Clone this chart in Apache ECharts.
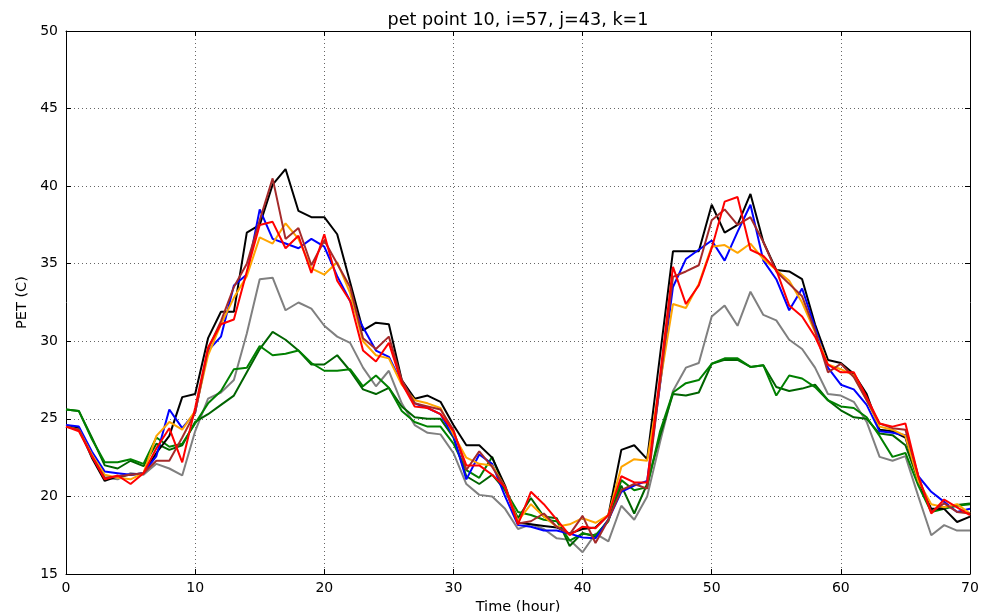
<!DOCTYPE html>
<html>
<head>
<meta charset="utf-8">
<script src="https://cdn.jsdelivr.net/npm/echarts@6/dist/echarts.min.js"></script>
<style>
  html, body { margin: 0; padding: 0; background: #fff; }
  #chart { width: 986px; height: 612px; }
</style>
</head>
<body>
<div id="chart"></div>
<script>
// PET time series at point 10 (i=57, j=43, k=1), one value per hour
const hours = Array.from({ length: 71 }, (_, i) => i);

const xTicks = [0, 10, 20, 30, 40, 50, 60, 70];
const yTicks = [15, 20, 25, 30, 35, 40, 45, 50];

const petBlack = [24.5, 24.4, 22.5, 21.0, 21.3, 21.4, 21.5, 22.8, 23.9, 26.4, 26.6, 30.2, 31.9, 31.9, 37.0, 37.5, 40.1, 41.1, 38.4, 38.0, 38.0, 36.9, 33.8, 30.7, 31.2, 31.1, 27.5, 26.3, 26.5, 26.1, 24.6, 23.3, 23.3, 22.5, 20.7, 18.3, 18.2, 18.1, 18.0, 17.6, 17.9, 18.0, 18.8, 23.0, 23.3, 22.4, 29.1, 35.8, 35.8, 35.8, 38.8, 37.0, 37.5, 39.5, 36.4, 34.6, 34.5, 34.0, 31.1, 28.8, 28.6, 27.9, 26.6, 24.3, 24.2, 23.8, 21.0, 19.2, 19.2, 18.35, 18.7];

const petBlue = [24.6, 24.5, 22.9, 21.6, 21.5, 21.4, 21.5, 22.6, 25.6, 24.4, 25.4, 29.4, 30.3, 33.6, 34.3, 38.5, 36.6, 36.3, 36.0, 36.6, 36.1, 34.2, 32.6, 30.9, 29.4, 29.0, 27.3, 26.0, 25.7, 25.3, 23.9, 21.1, 22.7, 22.1, 20.0, 18.15, 18.05, 17.8, 17.8, 17.6, 17.35, 17.3, 18.5, 20.3, 20.7, 21.0, 27.2, 33.5, 35.3, 35.9, 36.5, 35.2, 37.05, 38.8, 35.2, 34.0, 32.0, 33.4, 30.9, 28.3, 27.2, 26.9, 25.9, 24.2, 24.1, 23.95, 21.3, 20.3, 19.65, 19.0, 19.2];

const petOrange = [24.5, 24.3, 22.7, 21.4, 21.2, 21.1, 21.5, 23.9, 24.8, 24.3, 25.5, 29.1, 31.1, 32.8, 34.2, 36.7, 36.3, 37.6, 36.6, 34.7, 34.3, 35.1, 33.1, 30.0, 29.1, 28.9, 27.2, 26.2, 26.0, 25.7, 24.0, 22.5, 22.1, 22.0, 20.6, 18.4, 19.5, 18.7, 18.05, 18.2, 18.6, 18.3, 18.8, 21.9, 22.4, 22.3, 27.3, 32.4, 32.15, 33.7, 36.1, 36.2, 35.7, 36.3, 35.3, 34.6, 33.9, 32.5, 30.6, 28.5, 28.2, 27.8, 26.2, 24.5, 24.3, 23.9, 21.0, 19.5, 19.3, 19.5, 18.9];

const petRed = [24.5, 24.2, 22.6, 21.1, 21.35, 20.8, 21.5, 23.1, 24.4, 22.2, 25.7, 29.6, 31.1, 31.4, 34.5, 37.5, 37.7, 36.0, 36.8, 34.4, 36.9, 33.9, 32.6, 29.4, 28.7, 29.9, 27.3, 25.8, 25.7, 25.3, 24.2, 22.0, 22.0, 21.4, 20.6, 18.2, 20.3, 19.5, 18.5, 17.5, 18.05, 17.95, 18.8, 21.3, 20.9, 20.9, 27.8, 34.8, 32.4, 33.6, 36.0, 39.0, 39.3, 35.9, 35.5, 34.6, 32.3, 31.6, 30.3, 28.5, 28.0, 28.0, 26.4, 24.7, 24.5, 24.7, 21.3, 18.9, 19.8, 19.3, 18.8];

const petBrown = [24.5, 24.3, 22.6, 21.2, 21.3, 21.4, 21.5, 22.3, 22.3, 23.8, 25.4, 29.5, 31.3, 33.5, 35.0, 37.8, 40.5, 36.6, 37.3, 34.9, 36.5, 35.0, 33.5, 30.2, 29.5, 30.3, 27.5, 26.0, 25.8, 25.6, 24.3, 21.7, 22.9, 21.9, 20.6, 18.25, 18.4, 18.9, 18.05, 17.55, 18.75, 17.0, 18.5, 20.4, 20.8, 20.5, 27.3, 34.15, 34.5, 34.9, 37.8, 38.5, 37.5, 38.0, 36.4, 34.5, 33.7, 32.9, 30.7, 28.0, 28.55, 27.7, 26.2, 24.7, 24.4, 24.3, 21.3, 19.0, 19.55, 19.0, 18.9];

const petGray = [24.6, 24.4, 22.6, 21.2, 21.1, 21.5, 21.4, 22.1, 21.8, 21.35, 24.2, 26.3, 26.7, 27.5, 30.5, 34.0, 34.1, 32.0, 32.5, 32.1, 31.0, 30.3, 29.9, 28.3, 27.1, 28.1, 26.0, 24.6, 24.1, 24.0, 22.8, 20.8, 20.1, 20.0, 19.2, 17.9, 18.2, 17.9, 17.3, 17.2, 16.4, 17.6, 17.1, 19.4, 18.5, 20.0, 23.5, 26.8, 28.3, 28.6, 31.6, 32.3, 31.0, 33.2, 31.7, 31.35, 30.1, 29.5, 28.3, 26.6, 26.5, 26.1, 24.8, 22.55, 22.3, 22.6, 20.0, 17.5, 18.15, 17.8, 17.8];

const petGreen = [25.6, 25.5, 23.7, 22.2, 22.2, 22.4, 22.1, 23.8, 23.2, 23.4, 24.7, 26.0, 26.8, 28.2, 28.3, 29.7, 29.1, 29.2, 29.4, 28.6, 28.1, 28.1, 28.2, 27.1, 27.8, 27.0, 25.5, 24.8, 24.5, 24.5, 23.4, 21.7, 21.2, 22.55, 20.4, 19.0, 18.8, 18.5, 18.4, 17.15, 17.6, 17.5, 18.4, 21.05, 20.4, 20.6, 24.2, 26.7, 27.3, 27.5, 28.55, 28.9, 28.9, 28.35, 28.45, 26.5, 27.8, 27.6, 27.05, 26.2, 25.8, 25.7, 25.1, 23.9, 22.55, 22.8, 20.7, 19.0, 19.2, 19.4, 19.5];

const petDarkGreen = [25.6, 25.5, 23.8, 22.0, 21.8, 22.3, 21.95, 23.4, 23.0, 23.3, 24.8, 25.3, 25.9, 26.5, 28.0, 29.5, 30.6, 30.1, 29.4, 28.5, 28.5, 29.1, 28.1, 26.9, 26.6, 27.0, 25.8, 25.1, 25.0, 25.0, 23.8, 21.3, 20.8, 21.4, 20.4, 18.6, 19.9, 18.7, 18.6, 16.8, 17.65, 17.4, 18.5, 20.7, 18.9, 20.8, 23.9, 26.6, 26.5, 26.7, 28.55, 28.8, 28.8, 28.35, 28.45, 27.05, 26.8, 26.95, 27.2, 26.2, 25.55, 25.1, 25.0, 24.05, 23.95, 23.3, 21.05, 19.1, 19.3, 19.45, 19.55];

const FONT = 'DejaVu Sans';

const lines = [
  { name: 'gray', color: '#808080', values: petGray },
  { name: 'darkgreen', color: '#006400', values: petDarkGreen },
  { name: 'green', color: '#008000', values: petGreen },
  { name: 'black', color: '#000000', values: petBlack },
  { name: 'blue', color: '#0000ff', values: petBlue },
  { name: 'orange', color: '#ffa500', values: petOrange },
  { name: 'brown', color: '#a52a2a', values: petBrown },
  { name: 'red', color: '#ff0000', values: petRed }
];

const chart = echarts.init(document.getElementById('chart'), null, { renderer: 'canvas' });

const tickStyle = { show: true, inside: true, length: 5, lineStyle: { color: '#000', width: 1 } };
const gridLine = { show: true, lineStyle: { color: '#666', width: 1, type: [1, 3] } };

chart.setOption({
  animation: false,
  backgroundColor: '#fff',
  textStyle: { fontFamily: FONT },
  graphic: [{
    type: 'text',
    x: 518, y: 20,
    style: {
      text: 'pet point 10, i=57, j=43, k=1',
      font: '17.6px "DejaVu Sans"',
      fill: '#000',
      align: 'center',
      verticalAlign: 'middle'
    }
  }],
  grid: { left: 66, right: 16, top: 31, bottom: 38, containLabel: false, outerBoundsMode: 'none' },
  xAxis: [{
    type: 'value', min: 0, max: 70, interval: 10,
    name: 'Time (hour)', nameLocation: 'middle', nameGap: 23,
    nameTextStyle: { fontFamily: FONT, fontSize: 14.5, color: '#000' },
    axisLine: { show: true, onZero: false, lineStyle: { color: '#000', width: 1 } },
    axisTick: tickStyle,
    axisLabel: {
      fontFamily: FONT, fontSize: 14, color: '#000', margin: 7,
      formatter: v => (xTicks.includes(v) ? String(v) : '')
    },
    splitLine: gridLine
  }, {
    type: 'value', min: 0, max: 70, interval: 10, position: 'top',
    axisLine: { show: true, onZero: false, lineStyle: { color: '#000', width: 1 } },
    axisTick: tickStyle, axisLabel: { show: false }, splitLine: { show: false }
  }],
  yAxis: [{
    type: 'value', min: 15, max: 50, interval: 5,
    name: 'PET (C)', nameLocation: 'middle', nameGap: 30, nameRotate: 90,
    nameTextStyle: { fontFamily: FONT, fontSize: 14.5, color: '#000' },
    axisLine: { show: true, onZero: false, lineStyle: { color: '#000', width: 1 } },
    axisTick: tickStyle,
    axisLabel: {
      fontFamily: FONT, fontSize: 14, color: '#000', margin: 8,
      formatter: v => (yTicks.includes(v) ? String(v) : '')
    },
    splitLine: gridLine
  }, {
    type: 'value', min: 15, max: 50, interval: 5, position: 'right',
    axisLine: { show: true, onZero: false, lineStyle: { color: '#000', width: 1 } },
    axisTick: tickStyle, axisLabel: { show: false }, splitLine: { show: false }
  }],
  series: lines.map(s => ({
    name: s.name,
    type: 'line',
    xAxisIndex: 0,
    yAxisIndex: 0,
    data: hours.map((h, i) => [h, s.values[i]]),
    showSymbol: false,
    symbol: 'none',
    smooth: false,
    clip: true,
    lineStyle: { color: s.color, width: 2 },
    itemStyle: { color: s.color },
    emphasis: { disabled: true }
  }))
});
</script>
</body>
</html>
